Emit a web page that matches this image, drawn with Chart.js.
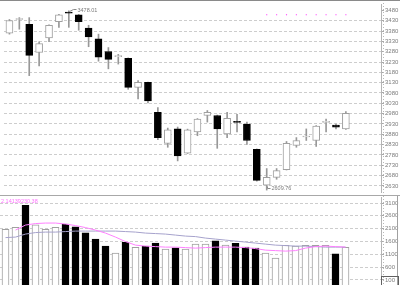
<!DOCTYPE html>
<html>
<head>
<meta charset="utf-8">
<script src="https://cdn.jsdelivr.net/npm/chart.js@4.4.1/dist/chart.umd.min.js"></script>
<style>
  body { margin: 0; background: #fff; }
  #wrap { position: relative; width: 400px; height: 285px; overflow: hidden; }
  canvas { position: absolute; left: 0; }
</style>
</head>
<body>
<div id="wrap">
  <canvas id="priceChart" width="400" height="196" style="top:0"></canvas>
  <canvas id="volumeChart" width="400" height="89" style="top:196px"></canvas>
</div>
<script>
// daily candles, oldest first
const days = Array.from({ length: 35 }, (_, i) => i);
const opens  = [3370, 3436, 3412, 3276, 3347, 3426, 3470, 3459, 3394, 3342, 3281, 3256, 3248, 3107, 3131, 2986, 2836, 2906, 2789, 2892, 2971, 2971, 2882, 2941, 2929, 2807, 2634, 2671, 2709, 2826, 2867, 2850, 2938, 2925, 2906];
const highs  = [3436, 3445, 3445, 3328, 3410, 3461, 3478.01, 3461, 3408, 3365, 3300, 3267, 3250, 3140, 3133, 3009, 2910, 2915, 2905, 2956, 2995, 2973, 2986, 2976, 2939, 2809, 2714, 2714, 2845, 2864, 2906, 2922, 2953, 2929, 2990];
const lows   = [3365, 3389, 3164, 3211, 3328, 3398, 3398, 3384, 3304, 3234, 3197, 3220, 3098, 3051, 3032, 2854, 2817, 2751, 2787, 2873, 2939, 2812, 2864, 2892, 2831, 2653, 2609.76, 2662, 2707, 2817, 2850, 2821, 2892, 2906, 2904];
const closes = [3431, 3438, 3262, 3319, 3408, 3459, 3467, 3426, 3351, 3253, 3243, 3259, 3107, 3131, 3042, 2864, 2901, 2775, 2901, 2953, 2986, 2906, 2957, 2938, 2850, 2657, 2671, 2704, 2836, 2850, 2870, 2920, 2941, 2915, 2981];
const volumes = [2073, 2151, 3010, 2252, 2073, 2151, 2280, 2174, 1940, 1694, 1420, 1147, 1565, 1370, 1420, 1538, 1303, 1354, 1303, 1499, 1499, 1628, 1460, 1526, 1381, 1342, 1147, 952, 1447, 1420, 1447, 1447, 1447, 1120, 1370];
const volFast = [null, 2045, 2241, 2299, 2319, 2319, 2280, 2221, 2143, 2045, 1928, 1772, 1596, 1459, 1420, 1401, 1381, 1381, 1362, 1342, 1362, 1381, 1381, 1381, 1362, 1323, 1264, 1245, 1225, 1245, 1342, 1401, 1420, 1401, 1381];
const volSlow = [1752, 1772, 1889, 1948, 1967, 1967, 1987, 2006, 2006, 2006, 2006, 2006, 1987, 1967, 1928, 1909, 1889, 1850, 1811, 1791, 1733, 1694, 1655, 1616, 1577, 1538, 1498, 1459, 1440, 1420, 1420, 1401, 1381, 1381, 1381];
const markerDays = [26, 27, 28, 29, 30, 31, 32, 33, 34];
const markerLevel = 3459;
const priceTicks = [2630, 2680, 2730, 2780, 2830, 2880, 2930, 2980, 3030, 3080, 3130, 3180, 3230, 3280, 3330, 3380, 3430, 3480];
const volumeTicks = [100, 600, 1100, 1600, 2100, 2600, 3100];
const volumeCaption = '2.14139230.38';

const up = days.map(i => closes[i] >= opens[i]);

const xScale = { type: 'linear', min: -0.55, max: 37.55, offset: false, display: false };

function rightAxis(min, max, ticks) {
    return {
        position: 'right',
        min: min,
        max: max,
        afterBuildTicks: ax => { ax.ticks = ticks.map(v => ({ value: v })); },
        afterFit: ax => { ax.width = 19; },
        ticks: { display: false },
        grid: {
            color: ctx => (ctx.tick && ctx.tick.value === 3480) ? 'rgba(0,0,0,0)' : '#cdcdcd',
            tickColor: '#a8a8a8',
            tickLength: 3,
        },
        border: { color: '#b4b4b4', dash: [3, 2] },
    };
}

// tick labels, ruler and frame drawn by hand so the chart area keeps its size
const axisLabels = {
    id: 'axisLabels',
    afterDraw(chart, args, opts) {
        const { ctx, chartArea } = chart;
        const y = chart.scales.y;
        ctx.save();
        ctx.font = '6px "Liberation Sans"';
        ctx.fillStyle = '#7c7c7c';
        ctx.textBaseline = 'middle';
        opts.values.forEach(v => ctx.fillText(String(v), chartArea.right + 4, y.getPixelForValue(v)));
        ctx.strokeStyle = '#b8b8b8';
        ctx.lineWidth = 1;
        ctx.setLineDash([1, 2]);
        ctx.beginPath();
        ctx.moveTo(chartArea.right + 2.5, 0);
        ctx.lineTo(chartArea.right + 2.5, chart.height);
        ctx.stroke();
        ctx.setLineDash([]);
        if (opts.top) {
            ctx.strokeStyle = '#8a8a8a';
            ctx.beginPath();
            ctx.moveTo(0, 0.5);
            ctx.lineTo(chart.width, 0.5);
            ctx.stroke();
        }
        if (opts.bottom) {
            ctx.strokeStyle = '#a8a8a8';
            ctx.beginPath();
            ctx.moveTo(0, chart.height - 0.5);
            ctx.lineTo(chart.width, chart.height - 0.5);
            ctx.stroke();
        }
        if (opts.box) {
            ctx.strokeStyle = '#a0a0a0';
            ctx.beginPath();
            ctx.moveTo(chart.width - 2.5, 0);
            ctx.lineTo(chart.width - 2.5, chart.height);
            ctx.stroke();
            ctx.strokeStyle = '#606060';
            ctx.strokeRect(chartArea.right + 0.5, y.getPixelForValue(100) - 3.5, 17, 9);
        }
        ctx.restore();
    }
};

// high / low call-outs on the price panel
const extremes = {
    id: 'extremes',
    afterDatasetsDraw(chart) {
        const { ctx } = chart;
        const x = chart.scales.x, y = chart.scales.y;
        const hi = highs.indexOf(Math.max(...highs));
        const lo = lows.indexOf(Math.min(...lows));
        ctx.save();
        ctx.strokeStyle = '#8a8a8a';
        ctx.fillStyle = '#7c7c7c';
        ctx.lineWidth = 1;
        ctx.font = '5.5px "Liberation Sans"';
        ctx.textBaseline = 'middle';
        let px = Math.round(x.getPixelForValue(hi)) + 0.5, py = Math.round(y.getPixelForValue(highs[hi])) + 0.5;
        ctx.beginPath();
        ctx.moveTo(px, py);
        ctx.lineTo(px + 4, py - 2);
        ctx.lineTo(px + 7, py - 2);
        ctx.stroke();
        ctx.fillText(highs[hi].toFixed(2), px + 8, py - 1);
        px = Math.round(x.getPixelForValue(lo)) + 0.5; py = Math.round(y.getPixelForValue(lows[lo])) - 0.5;
        ctx.beginPath();
        ctx.moveTo(px, py - 3);
        ctx.lineTo(px, py - 1);
        ctx.lineTo(px + 3, py - 1);
        ctx.stroke();
        ctx.fillText(lows[lo].toFixed(2), px + 4, py - 1);
        ctx.restore();
    }
};

const volumeCaptionPlugin = {
    id: 'volumeCaption',
    afterDraw(chart) {
        const { ctx } = chart;
        ctx.save();
        ctx.font = '5.5px "Liberation Sans"';
        ctx.fillStyle = '#ff70ff';
        ctx.textBaseline = 'middle';
        ctx.fillText(volumeCaption, 1, 5);
        ctx.restore();
    }
};

new Chart(document.getElementById('priceChart'), {
    type: 'bar',
    data: {
        datasets: [
            {
                type: 'scatter',
                data: markerDays.map(d => ({ x: d, y: markerLevel })),
                pointStyle: 'rect',
                pointRadius: 0.8,
                backgroundColor: '#ff40ff',
                borderWidth: 0,
                order: 0,
            },
            {
                data: days.map(i => ({ x: i, y: [opens[i], closes[i]] })),
                backgroundColor: up.map(u => u ? '#ffffff' : '#000000'),
                borderColor: up.map(u => u ? '#a0a0a0' : '#000000'),
                borderWidth: 1,
                borderSkipped: false,
                barThickness: 7,
                minBarLength: 1,
                grouped: false,
                order: 1,
            },
            {
                data: days.map(i => ({ x: i, y: [lows[i], highs[i]] })),
                backgroundColor: '#989898',
                barThickness: 1,
                grouped: false,
                order: 2,
            },
        ]
    },
    options: {
        responsive: false,
        animation: false,
        events: [],
        layout: { padding: { top: 1, bottom: 1, left: 0, right: 0 } },
        plugins: {
            legend: { display: false },
            tooltip: { enabled: false },
            axisLabels: { values: priceTicks, top: true, bottom: true },
        },
        scales: {
            x: xScale,
            y: rightAxis(2600.4, 3511, priceTicks),
        }
    },
    plugins: [axisLabels, extremes]
});

new Chart(document.getElementById('volumeChart'), {
    type: 'bar',
    data: {
        datasets: [
            {
                type: 'line',
                data: days.map(i => ({ x: i, y: volFast[i] })),
                borderColor: '#ff80ff',
                borderWidth: 1,
                pointRadius: 0,
                order: 0,
            },
            {
                type: 'line',
                data: days.map(i => ({ x: i, y: volSlow[i] })),
                borderColor: '#a6a2cc',
                borderWidth: 1,
                pointRadius: 0,
                order: 0,
            },
            {
                data: days.map(i => ({ x: i, y: volumes[i] })),
                base: -300,
                backgroundColor: up.map(u => u ? '#ffffff' : '#000000'),
                borderColor: up.map(u => u ? '#a0a0a0' : '#000000'),
                borderWidth: 1,
                barThickness: 7,
                grouped: false,
                order: 1,
            },
        ]
    },
    options: {
        responsive: false,
        animation: false,
        events: [],
        layout: { padding: { top: 1, bottom: 0, left: 0, right: 0 } },
        plugins: {
            legend: { display: false },
            tooltip: { enabled: false },
            axisLabels: { values: volumeTicks, box: true },
        },
        scales: {
            x: xScale,
            y: rightAxis(-95, 3334, volumeTicks),
        }
    },
    plugins: [axisLabels, volumeCaptionPlugin]
});
</script>
</body>
</html>
